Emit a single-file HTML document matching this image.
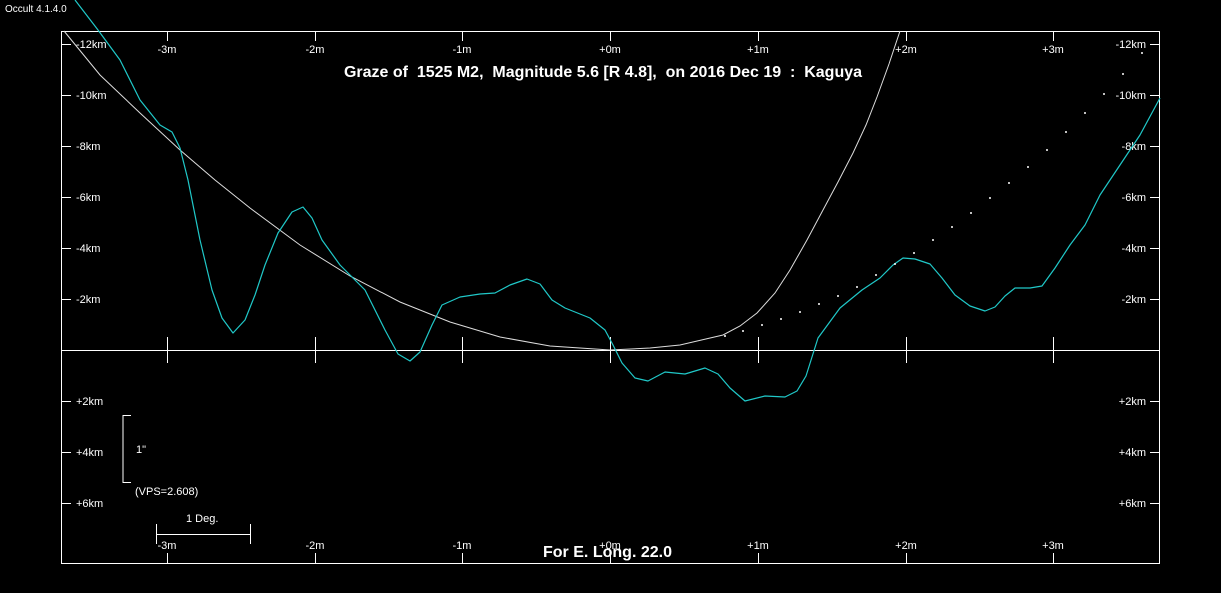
<!DOCTYPE html>
<html><head><style>body{margin:0;background:#000}svg{display:block}text{font-family:"Liberation Sans",Arial,sans-serif;fill:#fff;font-size:11px}.t{font-size:16px;font-weight:bold;white-space:pre}</style></head><body>
<svg width="1221" height="593" xmlns="http://www.w3.org/2000/svg">
<rect width="1221" height="593" fill="#000"/>
<text x="5" y="12" style="font-size:10px">Occult 4.1.4.0</text>
<rect x="61.5" y="31.5" width="1098" height="532" fill="none" stroke="#fff" stroke-width="1"/>
<line x1="61" y1="350.5" x2="1160" y2="350.5" stroke="#fff"/>
<g stroke="#fff">
<path d="M167.5 31v10M315.5 31v10M462.5 31v10M610.5 31v10M758.5 31v10M906.5 31v10M1053.5 31v10"/>
<path d="M167.5 553v10M315.5 553v10M462.5 553v10M610.5 553v10M758.5 553v10M906.5 553v10M1053.5 553v10"/>
<path d="M167.5 337v26M315.5 337v26M462.5 337v26M610.5 337v26M758.5 337v26M906.5 337v26M1053.5 337v26"/>
<path d="M61 44.5h10M61 95.5h10M61 146.5h10M61 197.5h10M61 248.5h10M61 299.5h10M61 401.5h10M61 452.5h10M61 503.5h10"/>
<path d="M1150 44.5h10M1150 95.5h10M1150 146.5h10M1150 197.5h10M1150 248.5h10M1150 299.5h10M1150 401.5h10M1150 452.5h10M1150 503.5h10"/>
<path d="M131 415.5h-8v67h8" fill="none"/>
<path d="M156.5 524v20M250.5 524v20M156 534.5h94"/>
</g>
<g text-anchor="middle">
<text x="167" y="53">-3m</text><text x="315" y="53">-2m</text><text x="462" y="53">-1m</text><text x="610" y="53">+0m</text><text x="758" y="53">+1m</text><text x="906" y="53">+2m</text><text x="1053" y="53">+3m</text>
<text x="167" y="549">-3m</text><text x="315" y="549">-2m</text><text x="462" y="549">-1m</text><text x="610" y="549">+0m</text><text x="758" y="549">+1m</text><text x="906" y="549">+2m</text><text x="1053" y="549">+3m</text>
</g>
<g>
<text x="76" y="48">-12km</text><text x="76" y="99">-10km</text><text x="76" y="150">-8km</text><text x="76" y="201">-6km</text><text x="76" y="252">-4km</text><text x="76" y="303">-2km</text><text x="76" y="405">+2km</text><text x="76" y="456">+4km</text><text x="76" y="507">+6km</text>
</g>
<g text-anchor="end">
<text x="1146" y="48">-12km</text><text x="1146" y="99">-10km</text><text x="1146" y="150">-8km</text><text x="1146" y="201">-6km</text><text x="1146" y="252">-4km</text><text x="1146" y="303">-2km</text><text x="1146" y="405">+2km</text><text x="1146" y="456">+4km</text><text x="1146" y="507">+6km</text>
</g>
<text x="136" y="453">1"</text>
<text x="135" y="495">(VPS=2.608)</text>
<text x="186" y="522">1 Deg.</text>
<text class="t" x="344" y="77" textLength="518" lengthAdjust="spacingAndGlyphs">Graze of  1525 M2,  Magnitude 5.6 [R 4.8],  on 2016 Dec 19  :  Kaguya</text>
<text class="t" x="543" y="557" textLength="129" lengthAdjust="spacingAndGlyphs">For E. Long. 22.0</text>
<polyline fill="none" stroke="#ddd" stroke-width="1" points="64,31 100,75 140,113 180,150 215,180 250,208 300,245 350,276 400,302 450,322 500,337 550,346 610,350 650,348 680,345 723,335 740,326 757,313 775,293 790,270 807,240 823,210 838,182 853,153 866,125 877,97 889,64 900,31"/>
<polyline fill="none" stroke="#20c8c8" stroke-width="1.2" stroke-linejoin="round" points="75,0 98,30 120,60 140,100 160,125 172,132 180,148 188,180 200,240 212,290 222,318 233,333 245,320 255,295 265,265 278,233 292,212 303,207 312,218 322,240 340,265 365,290 385,330 398,354 410,361 420,352 432,325 442,305 460,297 480,294 495,293 510,285 527,279 540,284 552,300 565,308 590,318 605,330 613,345 622,363 635,378 648,381 665,372 685,374 705,368 718,374 730,388 745,401 765,396 785,397 797,391 806,376 818,338 840,308 862,290 880,278 893,265 903,258 915,259 930,264 942,278 955,295 970,306 985,311 995,307 1005,296 1015,288 1030,288 1042,286 1055,268 1070,245 1085,225 1100,195 1120,165 1140,135 1160,98"/>
<g fill="#fff">
<circle cx="725" cy="336" r="1"/><circle cx="743" cy="331" r="1"/><circle cx="762" cy="325" r="1"/><circle cx="781" cy="319" r="1"/><circle cx="800" cy="312" r="1"/><circle cx="819" cy="304" r="1"/><circle cx="838" cy="296" r="1"/><circle cx="857" cy="287" r="1"/><circle cx="876" cy="275" r="1"/><circle cx="895" cy="264" r="1"/><circle cx="914" cy="253" r="1"/><circle cx="933" cy="240" r="1"/><circle cx="952" cy="227" r="1"/><circle cx="971" cy="213" r="1"/><circle cx="990" cy="198" r="1"/><circle cx="1009" cy="183" r="1"/><circle cx="1028" cy="167" r="1"/><circle cx="1047" cy="150" r="1"/><circle cx="1066" cy="132" r="1"/><circle cx="1085" cy="113" r="1"/><circle cx="1104" cy="94" r="1"/><circle cx="1123" cy="74" r="1"/><circle cx="1142" cy="53" r="1"/>
</g>
</svg>
</body></html>
